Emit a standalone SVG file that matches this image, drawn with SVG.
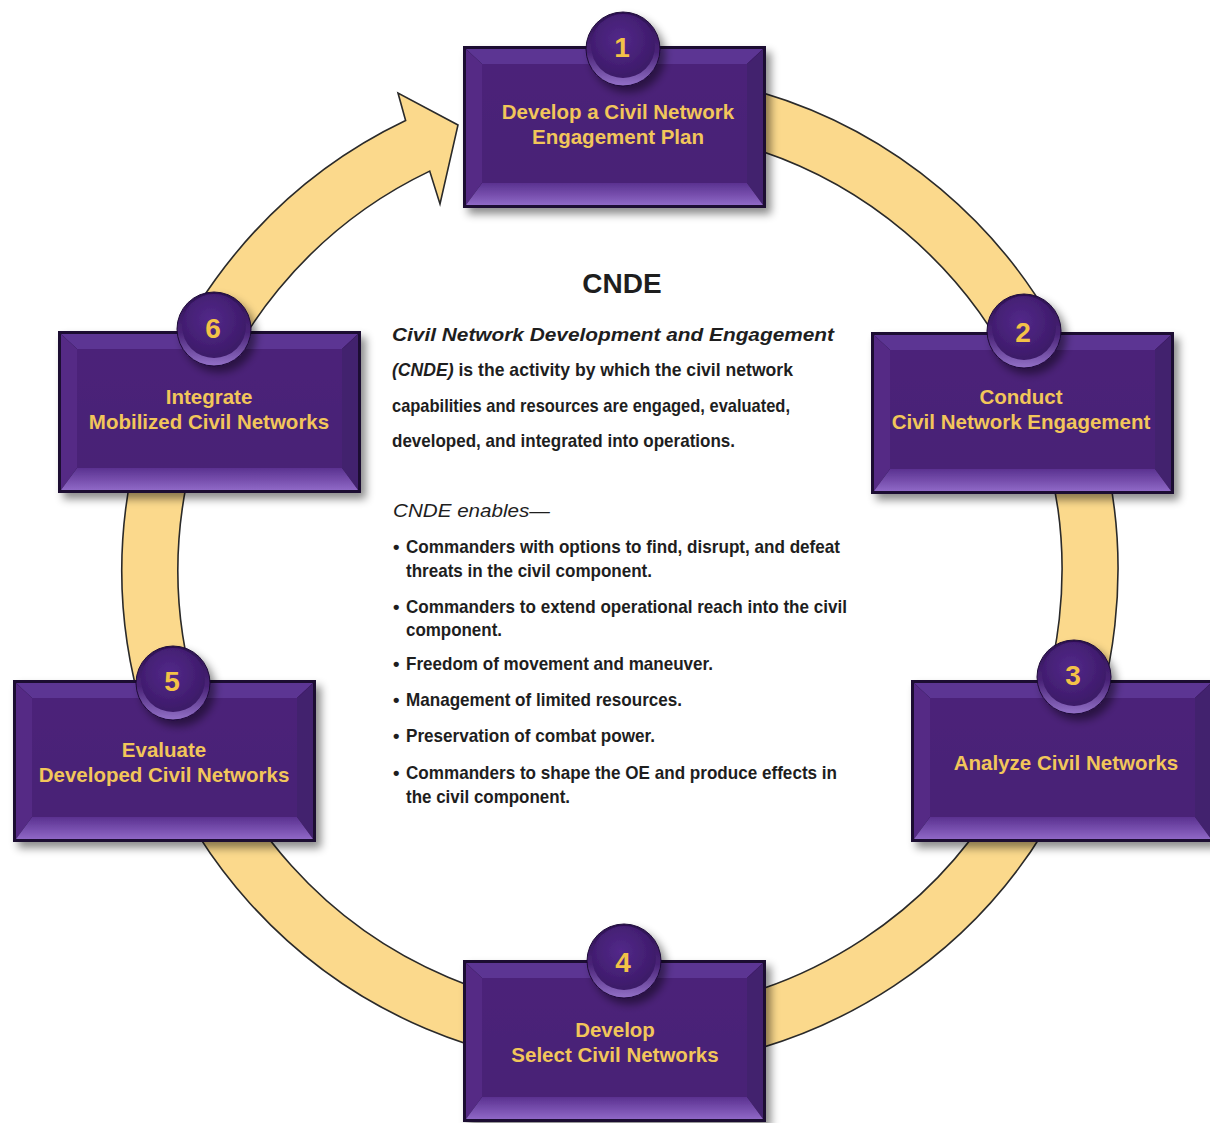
<svg xmlns="http://www.w3.org/2000/svg" xmlns:xlink="http://www.w3.org/1999/xlink" width="1210" height="1123" viewBox="0 0 1210 1123">
<style>
.lbl{font-family:"Liberation Sans",Arial,sans-serif;font-weight:bold;font-size:20.5px;fill:#F2C65A;text-anchor:middle}
.num{font-family:"Liberation Sans",Arial,sans-serif;font-weight:bold;font-size:28px;fill:#F3C247;text-anchor:middle}
.body{font-family:"Liberation Sans",Arial,sans-serif;font-weight:bold;font-size:18.5px;fill:#1e1e1e}
.it{font-style:italic}
.reg{font-weight:normal}
.ring{fill:#FBD98C;stroke:#2a2a2a;stroke-width:1.6;stroke-linejoin:miter}
</style>
<defs>
<filter id="sh" x="-10%" y="-10%" width="130%" height="130%">
<feDropShadow dx="5" dy="6" stdDeviation="4" flood-color="#000" flood-opacity="0.45"/>
</filter>
<linearGradient id="bot" x1="0" y1="0" x2="0" y2="1">
<stop offset="0" stop-color="#5a3190"/>
<stop offset="1" stop-color="#8f68c6"/>
</linearGradient>
<linearGradient id="face" x1="0" y1="0" x2="0" y2="1">
<stop offset="0" stop-color="#4c2479"/>
<stop offset="1" stop-color="#482276"/>
</linearGradient>
<linearGradient id="rim" x1="0" y1="0" x2="0" y2="1">
<stop offset="0" stop-color="#2c1052"/>
<stop offset="0.55" stop-color="#4a2478"/>
<stop offset="1" stop-color="#9371c8"/>
</linearGradient>
<radialGradient id="cap" cx="0.45" cy="0.4" r="0.6">
<stop offset="0" stop-color="#53298a"/>
<stop offset="1" stop-color="#3c1a68"/>
</radialGradient>
<g id="box">
<rect width="303" height="162" fill="#1b0b31"/>
<polygon points="3,3 300,3 284,18 19,18" fill="#5c3593"/>
<polygon points="3,3 19,18 19,137 3,159" fill="#542b85"/>
<polygon points="300,3 300,159 284,137 284,18" fill="#43206e"/>
<polygon points="3,159 19,137 284,137 300,159" fill="url(#bot)"/>
<rect x="19" y="18" width="265" height="119" fill="url(#face)"/>
</g>
<g id="badge">
<circle r="37" fill="url(#rim)" stroke="#1e0a38" stroke-width="1"/>
<circle cy="-3" r="32" fill="url(#cap)"/>
</g>
</defs>
<rect width="1210" height="1123" fill="#ffffff"/>
<g id="connectors">
<path class="ring" d="M 405.6 120.5 L 398 93 L 458 125 L 440 204 L 429.7 171.1 A 442 442 0 1 0 734.4 143.1 L 748.9 89 A 498 498 0 1 1 405.6 120.5 Z"/>
</g>
<g id="node1">
<use xlink:href="#box" href="#box" x="463" y="46" filter="url(#sh)"/>
<use xlink:href="#badge" href="#badge" x="623" y="49" filter="url(#sh)"/>
<text class="num" x="622" y="57">1</text>
<text class="lbl" x="618" y="119">Develop a Civil Network</text>
<text class="lbl" x="618" y="144">Engagement Plan</text>
</g>
<g id="node2">
<use xlink:href="#box" href="#box" x="871" y="332" filter="url(#sh)"/>
<use xlink:href="#badge" href="#badge" x="1024" y="331" filter="url(#sh)"/>
<text class="num" x="1023" y="342">2</text>
<text class="lbl" x="1021" y="404">Conduct</text>
<text class="lbl" x="1021" y="429">Civil Network Engagement</text>
</g>
<g id="node3">
<use xlink:href="#box" href="#box" x="911" y="680" filter="url(#sh)"/>
<use xlink:href="#badge" href="#badge" x="1074" y="677" filter="url(#sh)"/>
<text class="num" x="1073" y="685">3</text>
<text class="lbl" x="1066" y="770">Analyze Civil Networks</text>
</g>
<g id="node4">
<use xlink:href="#box" href="#box" x="463" y="960" filter="url(#sh)"/>
<use xlink:href="#badge" href="#badge" x="624" y="961" filter="url(#sh)"/>
<text class="num" x="623" y="972">4</text>
<text class="lbl" x="615" y="1037">Develop</text>
<text class="lbl" x="615" y="1062">Select Civil Networks</text>
</g>
<g id="node5">
<use xlink:href="#box" href="#box" x="13" y="680" filter="url(#sh)"/>
<use xlink:href="#badge" href="#badge" x="173" y="683" filter="url(#sh)"/>
<text class="num" x="172" y="691">5</text>
<text class="lbl" x="164" y="757">Evaluate</text>
<text class="lbl" x="164" y="782">Developed Civil Networks</text>
</g>
<g id="node6">
<use xlink:href="#box" href="#box" x="58" y="331" filter="url(#sh)"/>
<use xlink:href="#badge" href="#badge" x="214" y="329" filter="url(#sh)"/>
<text class="num" x="213" y="338">6</text>
<text class="lbl" x="209" y="404">Integrate</text>
<text class="lbl" x="209" y="429">Mobilized Civil Networks</text>
</g>
<g id="center-text">
<text x="622" y="293" style="font-family:'Liberation Sans',Arial,sans-serif;font-weight:bold;font-size:28px;fill:#1e1e1e;text-anchor:middle">CNDE</text>
<text class="body it" x="392" y="341" textLength="442" lengthAdjust="spacingAndGlyphs">Civil Network Development and Engagement</text>
<text class="body" x="392" y="376" textLength="401" lengthAdjust="spacingAndGlyphs"><tspan class="it">(CNDE)</tspan> is the activity by which the civil network</text>
<text class="body" x="392" y="412" textLength="398" lengthAdjust="spacingAndGlyphs">capabilities and resources are engaged, evaluated,</text>
<text class="body" x="392" y="447" textLength="343" lengthAdjust="spacingAndGlyphs">developed, and integrated into operations.</text>
<text class="body it reg" x="393" y="517" style="font-size:18.5px" textLength="157" lengthAdjust="spacingAndGlyphs">CNDE enables—</text>
<text class="body" x="393" y="553">•</text>
<text class="body" x="406" y="553" textLength="434" lengthAdjust="spacingAndGlyphs">Commanders with options to find, disrupt, and defeat</text>
<text class="body" x="406" y="577" textLength="246" lengthAdjust="spacingAndGlyphs">threats in the civil component.</text>
<text class="body" x="393" y="613">•</text>
<text class="body" x="406" y="613" textLength="441" lengthAdjust="spacingAndGlyphs">Commanders to extend operational reach into the civil</text>
<text class="body" x="406" y="636" textLength="96" lengthAdjust="spacingAndGlyphs">component.</text>
<text class="body" x="393" y="670">•</text>
<text class="body" x="406" y="670" textLength="307" lengthAdjust="spacingAndGlyphs">Freedom of movement and maneuver.</text>
<text class="body" x="393" y="706">•</text>
<text class="body" x="406" y="706" textLength="276" lengthAdjust="spacingAndGlyphs">Management of limited resources.</text>
<text class="body" x="393" y="742">•</text>
<text class="body" x="406" y="742" textLength="249" lengthAdjust="spacingAndGlyphs">Preservation of combat power.</text>
<text class="body" x="393" y="779">•</text>
<text class="body" x="406" y="779" textLength="431" lengthAdjust="spacingAndGlyphs">Commanders to shape the OE and produce effects in</text>
<text class="body" x="406" y="803" textLength="164" lengthAdjust="spacingAndGlyphs">the civil component.</text>
</g>
</svg>
